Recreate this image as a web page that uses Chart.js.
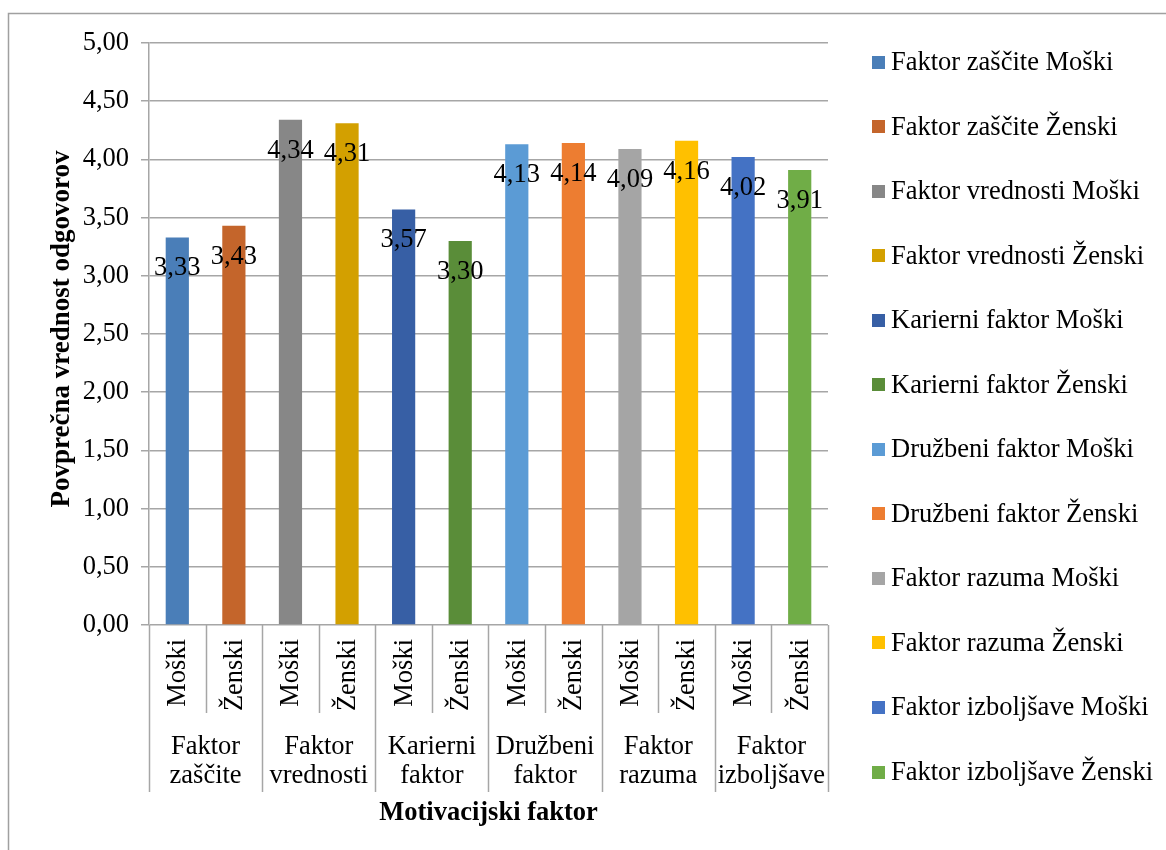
<!DOCTYPE html>
<html>
<head>
<meta charset="utf-8">
<script src="https://cdn.jsdelivr.net/npm/chart.js@4/dist/chart.umd.min.js"></script>
<style>
html,body{margin:0;padding:0;background:#fff;}
#wrap{width:1166px;height:850px;position:relative;}
</style>
</head>
<body>
<div id="wrap"><canvas id="c" width="1166" height="850"></canvas></div>
<script>
// ---- data ----
const groups = [["Faktor","zaščite"],["Faktor","vrednosti"],["Karierni","faktor"],["Družbeni","faktor"],["Faktor","razuma"],["Faktor","izboljšave"]];
const genders = ["Moški","Ženski"];
const seriesNames = ["Faktor zaščite Moški","Faktor zaščite Ženski","Faktor vrednosti Moški","Faktor vrednosti Ženski","Karierni faktor Moški","Karierni faktor Ženski","Družbeni faktor Moški","Družbeni faktor Ženski","Faktor razuma Moški","Faktor razuma Ženski","Faktor izboljšave Moški","Faktor izboljšave Ženski"];
const values = [3.33, 3.43, 4.34, 4.31, 3.57, 3.30, 4.13, 4.14, 4.09, 4.16, 4.02, 3.91];
const colors = ["#4A7EB8","#C4652B","#878787","#D3A000","#375FA5","#5A8D39","#5B9BD5","#ED7D31","#A5A5A5","#FFC000","#4472C4","#70AD47"];
const yTicks = [0,0.5,1,1.5,2,2.5,3,3.5,4,4.5,5];
const yTitle = "Povprečna vrednost odgovorov";
const xTitle = "Motivacijski faktor";

const FONT = "'Liberation Serif','Times New Roman',serif";
const FS = 26.5;
const GRID = "#a6a6a6";
const fmt = v => v.toFixed(2).replace('.', ',');

const labels = seriesNames.slice();

const decor = {
  id: 'decor',
  beforeDraw(chart) {
    const ctx = chart.ctx;
    ctx.save();
    ctx.fillStyle = '#fff';
    ctx.fillRect(0, 0, chart.width, chart.height);
    ctx.strokeStyle = '#a0a0a0';
    ctx.lineWidth = 1.5;
    ctx.beginPath();
    ctx.moveTo(8.5, 850);
    ctx.lineTo(8.5, 13.5);
    ctx.lineTo(1166, 13.5);
    ctx.stroke();
    ctx.restore();
  },
  afterDatasetsDraw(chart) {
    const ctx = chart.ctx;
    const area = chart.chartArea;
    const xs = chart.scales.x;
    const meta = chart.getDatasetMeta(0);
    ctx.save();
    // data labels
    ctx.fillStyle = '#000';
    ctx.font = `${FS}px ${FONT}`;
    ctx.textAlign = 'center';
    ctx.textBaseline = 'alphabetic';
    meta.data.forEach((bar, i) => {
      ctx.fillText(fmt(values[i]), bar.x, bar.y + 38);
    });
    // category axis (multi-level)
    const n = labels.length;
    const step = (xs.getPixelForValue(1) - xs.getPixelForValue(0));
    ctx.strokeStyle = GRID;
    ctx.lineWidth = 1.5;
    for (let i = 0; i <= n; i++) {
      const x = Math.round(xs.getPixelForValue(i) - step / 2) + 0.5;
      const isGroup = i % 2 === 0;
      ctx.beginPath();
      ctx.moveTo(x, area.bottom);
      ctx.lineTo(x, isGroup ? 792 : 713);
      ctx.stroke();
    }
    // gender labels (rotated)
    ctx.fillStyle = '#000';
    ctx.font = `${FS}px ${FONT}`;
    for (let i = 0; i < n; i++) {
      const cx = xs.getPixelForValue(i);
      ctx.save();
      ctx.translate(cx + 1, 639);
      ctx.rotate(-Math.PI / 2);
      ctx.textAlign = 'right';
      ctx.textBaseline = 'middle';
      ctx.fillText(genders[i % 2], 0, 0);
      ctx.restore();
    }
    // group labels
    ctx.textAlign = 'center';
    ctx.textBaseline = 'middle';
    groups.forEach((g, gi) => {
      const cx = (xs.getPixelForValue(gi * 2) + xs.getPixelForValue(gi * 2 + 1)) / 2;
      ctx.fillText(g[0], cx, 747);
      ctx.fillText(g[1], cx, 776);
    });
    // axis titles
    ctx.font = `bold ${FS}px ${FONT}`;
    ctx.fillText(xTitle, (area.left + area.right) / 2, 813);
    ctx.save();
    ctx.translate(62, (area.top + area.bottom) / 2 - 5);
    ctx.rotate(-Math.PI / 2);
    ctx.font = `bold 27px ${FONT}`;
    ctx.fillText(yTitle, 0, 0);
    ctx.restore();
    // legend
    ctx.font = `${FS}px ${FONT}`;
    ctx.textAlign = 'left';
    seriesNames.forEach((name, i) => {
      const y = 62 + i * 64.55;
      ctx.fillStyle = colors[i];
      ctx.fillRect(872, Math.round(y - 6.5), 13, 13);
      ctx.fillStyle = '#000';
      ctx.fillText(name, 891, y + 1);
    });
    ctx.restore();
  }
};

new Chart(document.getElementById('c'), {
  type: 'bar',
  data: {
    labels: labels,
    datasets: [{
      label: 'Povprečna vrednost',
      data: values,
      backgroundColor: colors,
      borderWidth: 0,
      categoryPercentage: 1,
      barPercentage: 0.41
    }]
  },
  options: {
    responsive: false,
    animation: false,
    devicePixelRatio: 1,
    layout: { padding: { left: 0, top: 43, right: 338, bottom: 225 } },
    plugins: { legend: { display: false }, tooltip: { enabled: false } },
    scales: {
      x: { display: false, offset: true },
      y: {
        min: 0, max: 5,
        afterFit(s) { s.width = 149; },
        afterBuildTicks(s) { s.ticks = yTicks.map(v => ({ value: v })); },
        ticks: {
          callback: v => fmt(v),
          font: { family: FONT, size: FS },
          color: '#000',
          padding: 12
        },
        grid: { color: GRID, lineWidth: 1.5, tickLength: 8, tickColor: GRID },
        border: { display: true, color: GRID, width: 1.5 }
      }
    }
  },
  plugins: [decor]
});
</script>
</body>
</html>
